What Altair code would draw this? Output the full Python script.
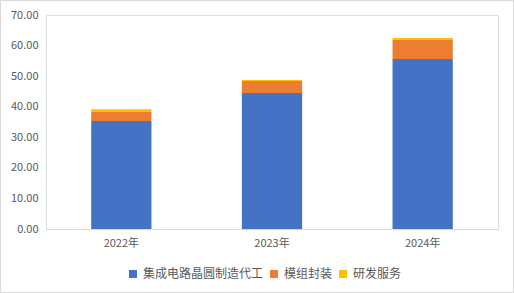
import altair as alt
import pandas as pd

years = ["2022年", "2023年", "2024年"]
series = ["集成电路晶圆制造代工", "模组封装", "研发服务"]
wafer = [35.3, 44.5, 55.6]
module = [3.0, 3.9, 6.2]
rnd = [0.9, 0.35, 0.7]
colors = ["#4472C4", "#ED7D31", "#FFC000"]

rows = []
for i, y in enumerate(years):
    for k, (s, vals) in enumerate(zip(series, [wafer, module, rnd])):
        rows.append({"year": y, "series": s, "value": vals[i], "order": k})
df = pd.DataFrame(rows)

FONT = "Noto Sans CJK SC"
GRAY = "#595959"

bars = alt.Chart(df).mark_bar().encode(
    x=alt.X("year:N", sort=years, title=None,
            scale=alt.Scale(paddingInner=0.6, paddingOuter=0.3),
            axis=alt.Axis(labelAngle=0, ticks=False, domainColor="#d9d9d9",
                          labelPadding=8, labelColor=GRAY, labelFontSize=11, labelFont=FONT)),
    y=alt.Y("value:Q", stack="zero", title=None,
            scale=alt.Scale(domain=[0, 70]),
            axis=alt.Axis(values=list(range(0, 71, 10)), format=".2f", grid=False,
                          domain=False, ticks=False, labelPadding=8,
                          labelColor=GRAY, labelFontSize=11, labelFont=FONT)),
    color=alt.Color("series:N", sort=series,
                    scale=alt.Scale(domain=series, range=colors),
                    legend=alt.Legend(title=None, orient="none", direction="horizontal",
                                      legendX=81, legendY=253,
                                      symbolType="square", symbolSize=64,
                                      symbolStrokeWidth=0,
                                      labelColor=GRAY, labelFontSize=12, labelFont=FONT,
                                      labelOffset=4, columnPadding=4)),
    order=alt.Order("order:Q"),
)

border = alt.Chart(pd.DataFrame({"a": [0]})).mark_rect(
    fill=None, stroke="#d9d9d9", strokeWidth=1
).encode(x=alt.value(-45.5), x2=alt.value(467.5), y=alt.value(-14.5), y2=alt.value(277.5))

chart = alt.layer(border, bars).properties(
    width=452, height=214,
    autosize=alt.AutoSizeParams(type="none"),
    padding={"left": 46, "top": 15, "right": 16, "bottom": 64},
).configure_view(stroke=None).configure(background="white")

chart.save("out.html", embed_options={"renderer": "svg", "actions": False})
